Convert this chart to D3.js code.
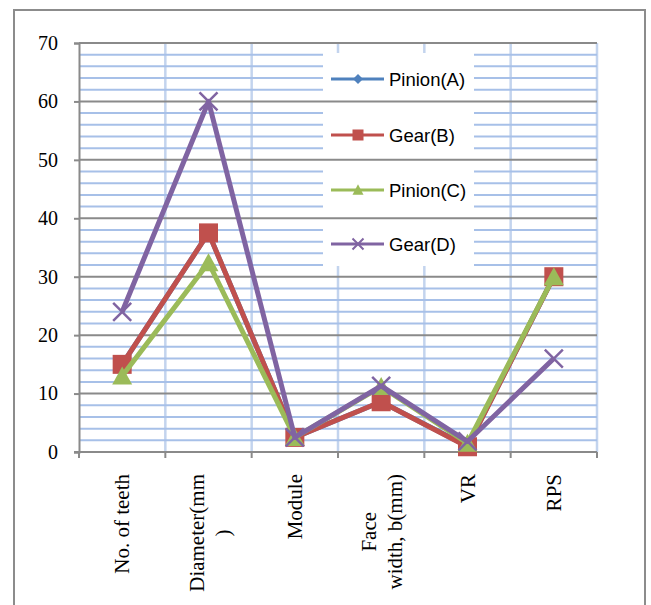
<!DOCTYPE html>
<html><head><meta charset="utf-8">
<script src="https://cdn.jsdelivr.net/npm/d3@7"></script>
<style>html,body{margin:0;padding:0;background:#fff;}svg{display:block;}</style>
</head><body>
<svg id="chart" width="651" height="605"></svg>
<script>
// ---- data ----
const categories = ["No. of teeth", "Diameter(mm)", "Module", "Face width, b(mm)", "VR", "RPS"];
const categoryLines = [["No. of teeth"], ["Diameter(mm", ")"], ["Module"], ["Face", "width, b(mm)"], ["VR"], ["RPS"]];
const seriesNames = ["Pinion(A)", "Gear(B)", "Pinion(C)", "Gear(D)"];
const pinionA = [15, 37.5, 2.5, 8.6, 1, 30];
const gearB   = [15, 37.5, 2.5, 8.6, 0.9, 30];
const pinionC = [13, 32.4, 2.5, 11.2, 1.5, 30];
const gearD   = [24, 60, 2.5, 11.3, 1.8, 16];
const yTicks = [0, 10, 20, 30, 40, 50, 60, 70];
const yMinorTicks = d3.range(0, 70, 2).filter(v => v % 10 !== 0);

(function () {
const colors = ["#4F81BD", "#C0504D", "#9BBB59", "#8064A2"];
const markers = ["diamond", "square", "triangle", "x"];
const seriesValues = [pinionA, gearB, pinionC, gearD];

const svg = d3.select("#chart");
// outer border
svg.append("rect").attr("x", 14).attr("y", 10).attr("width", 631).attr("height", 610)
  .attr("fill", "#fff").attr("stroke", "#8c8c8c").attr("stroke-width", 2);

const pL = 79, pR = 597, pT = 43, pB = 452;
const x = d3.scaleBand().domain(categories).range([pL, pR]).paddingInner(0).paddingOuter(0);
const y = d3.scaleLinear().domain([0, 70]).range([pB, pT]);

// vertical gridlines at category boundaries
const bounds = categories.map(c => x(c)).concat([pR]).slice(1);
svg.append("g").selectAll("line").data(bounds).join("line")
  .attr("x1", d => d).attr("x2", d => d).attr("y1", pT).attr("y2", pB)
  .attr("stroke", "#c3d4ee").attr("stroke-width", 2.5);

// minor horizontal gridlines
svg.append("g").selectAll("line").data(yMinorTicks).join("line")
  .attr("x1", pL).attr("x2", pR).attr("y1", d => y(d)).attr("y2", d => y(d))
  .attr("stroke", "#a7c0e8").attr("stroke-width", 2);

// legend background
const legX = 323, legY = 53, legW = 151, legH = 213;
svg.append("rect").attr("x", legX).attr("y", legY).attr("width", legW).attr("height", legH).attr("fill", "#fff");

// major gridlines
svg.append("g").selectAll("line").data(yTicks.filter(v => v > 0)).join("line")
  .attr("x1", pL).attr("x2", pR).attr("y1", d => y(d)).attr("y2", d => y(d))
  .attr("stroke", "#8a8a8a").attr("stroke-width", 2);

// y axis
const yAxis = svg.append("g").attr("transform", `translate(${pL},0)`)
  .call(d3.axisLeft(y).tickValues(yTicks).tickSize(5).tickPadding(16));
yAxis.select(".domain").attr("stroke", "#8a8a8a").attr("stroke-width", 2);
yAxis.selectAll(".tick line").attr("stroke", "#8a8a8a").attr("stroke-width", 2);
yAxis.selectAll(".tick text").attr("font-family", "'Liberation Serif', 'Times New Roman', serif")
  .attr("font-size", 20).attr("fill", "#000");

// x axis line + ticks
svg.append("line").attr("x1", pL - 5).attr("x2", pR).attr("y1", pB).attr("y2", pB)
  .attr("stroke", "#8a8a8a").attr("stroke-width", 2);
svg.append("g").selectAll("line").data(categories.map(c => x(c)).concat([pR])).join("line")
  .attr("x1", d => d).attr("x2", d => d).attr("y1", pB).attr("y2", pB + 6)
  .attr("stroke", "#8a8a8a").attr("stroke-width", 2);

// category labels (rotated, each line centred, block top-aligned)
const labG = svg.append("g");
categories.forEach((c, i) => {
  const cx = x(c) + x.bandwidth() / 2;
  const lines = categoryLines[i];
  const t = labG.append("text")
    .attr("text-anchor", "middle")
    .attr("font-family", "'Liberation Serif', 'Times New Roman', serif")
    .attr("font-size", 21).attr("fill", "#000");
  const offs = lines.length === 1 ? [7] : [-5, 21];
  const spans = lines.map((ln, j) => t.append("tspan").attr("x", 0).attr("y", offs[j]).text(ln));
  const maxLen = d3.max(spans, s => s.node().getComputedTextLength());
  t.attr("transform", `translate(${cx},${474 + maxLen / 2}) rotate(-90)`);
});

// marker drawing
function drawMarker(g, type, cx, cy, size, color, sw) {
  if (type === "diamond") {
    const s = size / 2;
    g.append("path").attr("d", `M${cx},${cy - s}L${cx + s},${cy}L${cx},${cy + s}L${cx - s},${cy}Z`).attr("fill", color);
  } else if (type === "square") {
    g.append("rect").attr("x", cx - size / 2).attr("y", cy - size / 2).attr("width", size).attr("height", size).attr("fill", color);
  } else if (type === "triangle") {
    const h = size * 0.85;
    g.append("path").attr("d", `M${cx},${cy - h / 2 - 1}L${cx + size / 2},${cy + h / 2}L${cx - size / 2},${cy + h / 2}Z`).attr("fill", color);
  } else if (type === "x") {
    const s = size / 2;
    g.append("path").attr("d", `M${cx - s},${cy - s}L${cx + s},${cy + s}M${cx - s},${cy + s}L${cx + s},${cy - s}`)
      .attr("stroke", color).attr("stroke-width", sw).attr("fill", "none");
  }
}

const line = d3.line().x((d, i) => x(categories[i]) + x.bandwidth() / 2).y(d => y(d));
const markerSizes = [16, 19, 20, 18];
seriesValues.forEach((vals, si) => {
  const g = svg.append("g");
  g.append("path").datum(vals).attr("d", line).attr("fill", "none")
    .attr("stroke", colors[si]).attr("stroke-width", 5).attr("stroke-linejoin", "round");
  vals.forEach((v, i) => {
    drawMarker(g, markers[si], x(categories[i]) + x.bandwidth() / 2, y(v), markerSizes[si], colors[si], 2.5);
  });
});

// legend content
const legRowY = [79, 135, 190, 244];
const legSizes = [10, 11, 11, 11];
seriesNames.forEach((n, i) => {
  const g = svg.append("g");
  g.append("line").attr("x1", 331).attr("x2", 384).attr("y1", legRowY[i]).attr("y2", legRowY[i])
    .attr("stroke", colors[i]).attr("stroke-width", 3);
  drawMarker(g, markers[i], 358, legRowY[i], legSizes[i], colors[i], 2);
  g.append("text").attr("x", 389).attr("y", legRowY[i] + 6.5)
    .attr("font-family", "'Liberation Sans', Arial, sans-serif").attr("font-size", 18.5)
    .attr("fill", "#000").text(n);
});
})();
</script>
</body></html>
